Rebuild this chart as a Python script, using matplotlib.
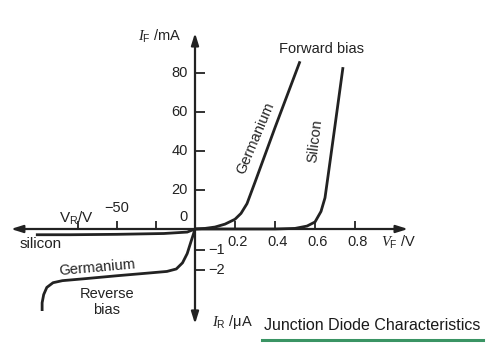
import numpy as np
import matplotlib.pyplot as plt

# forward bias: voltage (V) and current (mA)
ge_fwd_v = [0, 0.05, 0.10, 0.15, 0.20, 0.23, 0.26, 0.30, 0.40, 0.525]
ge_fwd_i = [0, 0.3, 1.0, 2.5, 5.0, 8.0, 13.0, 24.0, 52.0, 86.0]
si_fwd_v = [0, 0.40, 0.50, 0.56, 0.60, 0.63, 0.65, 0.665, 0.70, 0.74]
si_fwd_i = [0, 0.0, 0.3, 1.5, 3.6, 9.0, 16.0, 27.0, 53.0, 83.0]

# reverse bias: voltage (V) and current (uA)
ge_rev_v = [0, -1, -2.5, -5, -8, -12, -18, -30, -50, -70, -85, -91, -95, -97, -98, -98]
ge_rev_i = [0, -0.25, -0.6, -1.2, -1.65, -1.95, -2.07, -2.15, -2.28, -2.42, -2.52,
            -2.62, -2.85, -3.2, -3.6, -4.0]
si_rev_v = [0, -5, -20, -50, -80, -102]
si_rev_i = [0, -0.15, -0.22, -0.26, -0.28, -0.28]

x_ticks_fwd = [0.2, 0.4, 0.6, 0.8]
x_ticks_rev = [-75, -50, -25]
y_ticks_fwd = [20, 40, 60, 80]
y_ticks_rev = [-1, -2]

W, H = 486, 354
INK = '#222222'

plt.rcParams['font.family'] = ['Liberation Sans', 'DejaVu Sans']
plt.rcParams['mathtext.fontset'] = 'custom'
plt.rcParams['mathtext.rm'] = 'Liberation Sans'
plt.rcParams['mathtext.it'] = 'Liberation Serif:italic'


# the two halves of each axis use different units, so use piecewise scales
def fx(v):
    v = np.asarray(v, dtype=float)
    return np.where(v >= 0, v * 200.0, v * 1.56)

def fx_inv(u):
    u = np.asarray(u, dtype=float)
    return np.where(u >= 0, u / 200.0, u / 1.56)

def fy(i):
    i = np.asarray(i, dtype=float)
    return np.where(i >= 0, i * 1.95, i * 20.5)

def fy_inv(u):
    u = np.asarray(u, dtype=float)
    return np.where(u >= 0, u / 1.95, u / 20.5)


fig = plt.figure(figsize=(W / 100, H / 100), dpi=100)
ax = fig.add_axes([0, 0, 1, 1])
ax.set_xscale('function', functions=(fx, fx_inv))
ax.set_yscale('function', functions=(fy, fy_inv))
ax.set_xlim(-195 / 1.56, 291 / 200)
ax.set_ylim(-125 / 20.5, 229 / 1.95)
ax.axis('off')


def label(x, y, s, **kw):
    # place text by pixel position of the picture
    kw.setdefault('fontsize', 10.5)
    kw.setdefault('color', INK)
    kw.setdefault('ha', 'center')
    kw.setdefault('va', 'center')
    ax.text(x / W, 1 - y / H, s, transform=ax.transAxes, **kw)


# axes with arrows
arrow = dict(arrowstyle='<|-|>,head_length=0.7,head_width=0.22', lw=1.6,
             color=INK, shrinkA=0, shrinkB=0)
ax.annotate('', xy=(1.065, 0), xytext=(-118, 0), arrowprops=arrow)
ax.annotate('', xy=(0, 100.5), xytext=(0, -4.63), arrowprops=arrow)

# ticks
ax.plot(x_ticks_fwd + x_ticks_rev, [0] * 7, ls='none', marker=2, ms=6, mew=1.3, color=INK)
ax.plot([0] * 6, y_ticks_fwd + y_ticks_rev, ls='none', marker=1, ms=7, mew=1.3, color=INK)

for v in x_ticks_fwd:
    ax.annotate(f'{v:.1f}', (v, 0), xytext=(3, -13), textcoords='offset pixels',
                ha='center', va='center', fontsize=10.5, color=INK)
ax.annotate('\u221250', (-50, 0), xytext=(0, 21), textcoords='offset pixels',
            ha='center', va='center', fontsize=10.5, color=INK)
for i in y_ticks_fwd:
    ax.annotate(f'{i}', (0, i), xytext=(-7, 0), textcoords='offset pixels',
                ha='right', va='center', fontsize=10.5, color=INK)
for i in y_ticks_rev:
    ax.annotate(f'\u2212{-i}', (0, i), xytext=(13, 0), textcoords='offset pixels',
                ha='left', va='center', fontsize=10.5, color=INK)
ax.annotate('0', (0, 0), xytext=(-12, 12), textcoords='offset pixels',
            ha='center', va='center', fontsize=10.5, color=INK)

# characteristic curves
curve = dict(color=INK, lw=2.0, solid_capstyle='butt')
ax.plot(ge_fwd_v, ge_fwd_i, **curve)
ax.plot(si_fwd_v, si_fwd_i, **curve)
ax.plot(ge_rev_v, ge_rev_i, **curve)
ax.plot(si_rev_v, si_rev_i, **curve)

# axis names and annotations
label(160, 36, '$I_\\mathrm{F}$ /mA')
label(399, 242, '$V_\\mathrm{F}$ /V')
label(76, 218, 'V$_\\mathrm{R}$/V', fontsize=11)
label(232, 322, '$I_\\mathrm{R}$ /\u03bcA')
label(321, 49, 'Forward bias')
label(256, 138, 'Germanium', rotation=67)
label(315, 141, 'Silicon', rotation=83)
label(41, 244, 'silicon', fontsize=11)
label(97, 268, 'Germanium', rotation=5)
label(107, 302, 'Reverse\nbias', linespacing=1.15)

label(372, 326, 'Junction Diode Characteristics', fontsize=11.5, color='#1a1a1a')
ax.plot([262 / W, 483 / W], [1 - 340 / H] * 2, transform=ax.transAxes,
        color='#3a9464', lw=2.2)

fig.savefig('out.png', dpi=100, facecolor='white')
